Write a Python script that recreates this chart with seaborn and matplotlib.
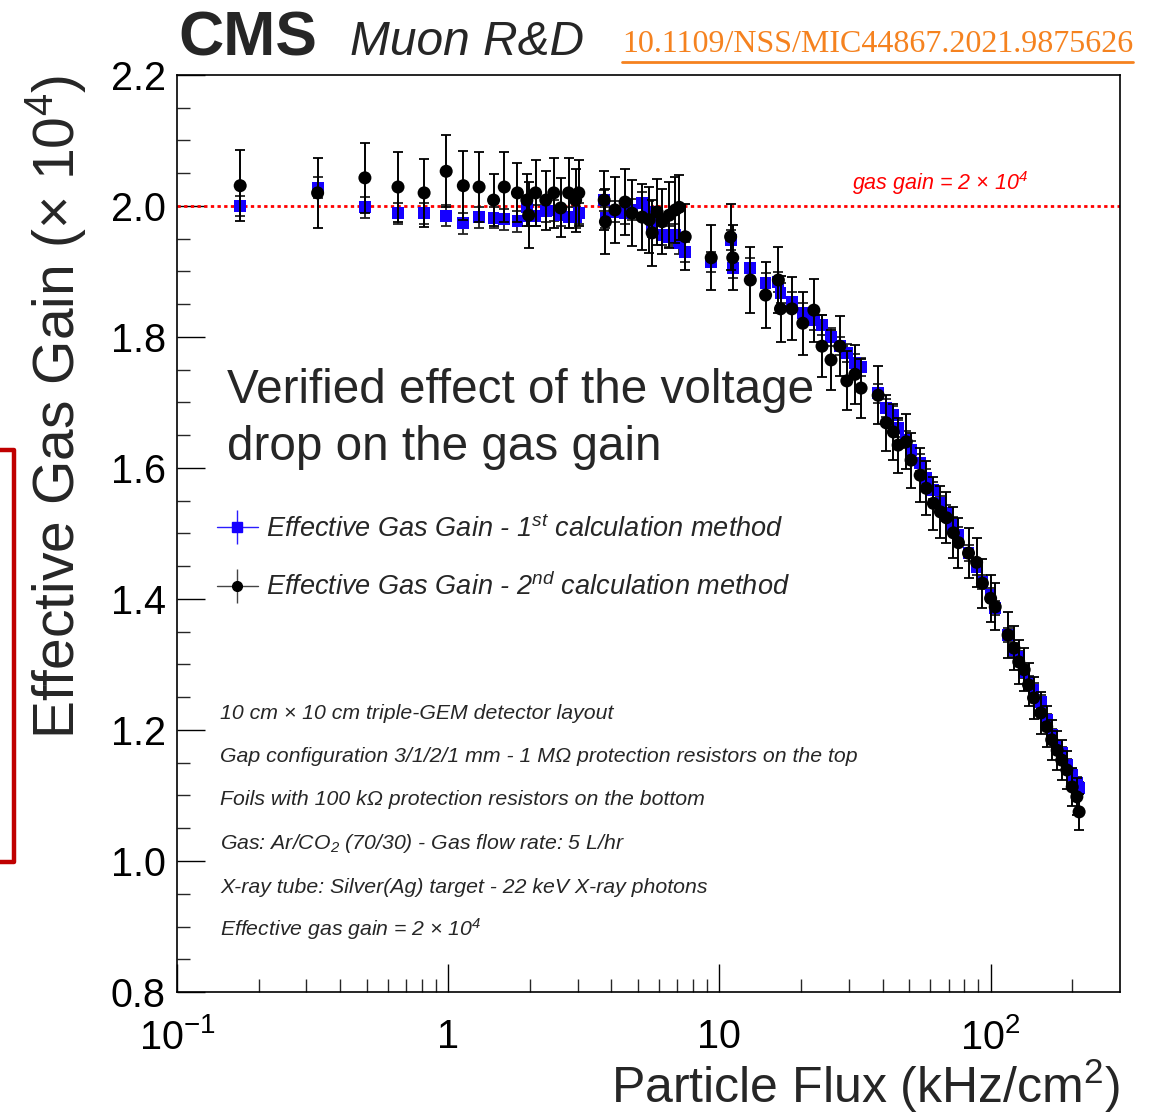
import numpy as np
import pandas as pd
import matplotlib
matplotlib.use("Agg")
import matplotlib.pyplot as plt
import seaborn as sns
from matplotlib.lines import Line2D
from matplotlib.patches import Rectangle
from matplotlib.legend_handler import HandlerTuple
from matplotlib.ticker import FixedLocator, NullFormatter

# ---------------- data ----------------
flux = [0.171, 0.33, 0.493, 0.653, 0.815, 0.983, 1.137, 1.30, 1.47, 1.61,
        1.80, 1.95, 1.98, 2.10, 2.29, 2.45, 2.60, 2.78, 2.95, 3.03,
        3.76, 3.80, 4.12, 4.49, 4.76, 5.19, 5.51, 5.65, 5.89, 6.15,
        6.53, 6.88, 7.11, 7.48, 9.33, 11.0, 11.2, 13.0, 14.8, 16.5,
        16.8, 18.5, 20.3, 22.3, 23.9, 25.8, 27.8, 29.5, 31.6, 33.3,
        38.5, 41.2, 43.8, 45.6, 48.9, 50.9, 55.0, 57.9, 61.5, 65.3,
        68.7, 72.9, 76.1, 82.9, 88.8, 93.3, 100.0, 104.0, 116.0, 122.0,
        127.0, 133.0, 138.0, 144.0, 153.0, 161.0, 168.0, 176.0, 183.0, 191.0,
        200.0, 208.0, 212.0]

gain_1st = [2.000, 2.028, 1.998, 1.989, 1.989, 1.985, 1.974, 1.983, 1.982, 1.980,
            1.977, 1.998, 1.985, 1.985, 1.992, 1.993, 1.986, 1.983, 1.983, 1.989,
            2.009, 1.982, 1.991, 1.989, 1.994, 2.005, 1.991, 1.968, 1.979, 1.956,
            1.953, 1.956, 1.943, 1.930, 1.915, 1.948, 1.905, 1.905, 1.882, 1.884,
            1.867, 1.853, 1.837, 1.826, 1.818, 1.800, 1.786, 1.776, 1.760, 1.754,
            1.714, 1.692, 1.681, 1.661, 1.643, 1.628, 1.608, 1.585, 1.566, 1.546,
            1.531, 1.513, 1.498, 1.470, 1.449, 1.426, 1.406, 1.386, 1.345, 1.322,
            1.311, 1.289, 1.273, 1.261, 1.243, 1.215, 1.192, 1.174, 1.165, 1.147,
            1.131, 1.119, 1.111]

err_1st = [0.016, 0.016, 0.016, 0.016, 0.016, 0.016, 0.016, 0.016, 0.016, 0.016,
           0.016, 0.016, 0.016, 0.016, 0.016, 0.016, 0.016, 0.016, 0.016, 0.016,
           0.016, 0.016, 0.016, 0.016, 0.016, 0.016, 0.016, 0.016, 0.016, 0.016,
           0.016, 0.016, 0.016, 0.015, 0.015, 0.015, 0.015, 0.015, 0.015, 0.015,
           0.015, 0.015, 0.015, 0.015, 0.015, 0.014, 0.014, 0.014, 0.014, 0.014,
           0.014, 0.014, 0.013, 0.013, 0.013, 0.013, 0.013, 0.013, 0.013, 0.012,
           0.012, 0.012, 0.012, 0.012, 0.012, 0.011, 0.011, 0.011, 0.011, 0.011,
           0.010, 0.010, 0.010, 0.010, 0.010, 0.010, 0.009, 0.009, 0.009, 0.009,
           0.009, 0.009, 0.009]

gain_2nd = [2.031, 2.020, 2.043, 2.029, 2.020, 2.053, 2.031, 2.029, 2.009, 2.029,
            2.020, 2.009, 1.986, 2.020, 2.009, 2.020, 1.997, 2.020, 2.009, 2.020,
            2.009, 1.976, 1.994, 2.006, 1.989, 1.983, 1.979, 1.959, 1.991, 1.976,
            1.986, 1.994, 1.998, 1.953, 1.921, 1.953, 1.921, 1.887, 1.864, 1.887,
            1.843, 1.843, 1.821, 1.841, 1.786, 1.765, 1.786, 1.733, 1.743, 1.722,
            1.711, 1.669, 1.655, 1.635, 1.640, 1.612, 1.589, 1.569, 1.546, 1.533,
            1.524, 1.501, 1.486, 1.470, 1.456, 1.424, 1.401, 1.388, 1.345, 1.325,
            1.304, 1.292, 1.269, 1.249, 1.226, 1.205, 1.185, 1.169, 1.154, 1.139,
            1.113, 1.098, 1.075]

err_2nd = [0.054, 0.054, 0.053, 0.053, 0.052, 0.055, 0.053, 0.053, 0.040, 0.053,
           0.045, 0.040, 0.050, 0.050, 0.045, 0.053, 0.045, 0.053, 0.048, 0.050,
           0.045, 0.050, 0.050, 0.050, 0.050, 0.050, 0.050, 0.050, 0.050, 0.050,
           0.050, 0.050, 0.050, 0.050, 0.050, 0.050, 0.050, 0.050, 0.050, 0.050,
           0.050, 0.048, 0.048, 0.048, 0.047, 0.046, 0.046, 0.045, 0.045, 0.045,
           0.044, 0.043, 0.043, 0.042, 0.042, 0.042, 0.041, 0.041, 0.040, 0.040,
           0.039, 0.039, 0.038, 0.038, 0.037, 0.037, 0.036, 0.036, 0.035, 0.034,
           0.034, 0.033, 0.033, 0.032, 0.032, 0.031, 0.031, 0.030, 0.030, 0.029,
           0.029, 0.028, 0.028]

x_tick_vals = [0.1, 1, 10, 100]
x_tick_labels = ["$10^{-1}$", "1", "10", "$10^{2}$"]
y_tick_vals = [0.8, 1.0, 1.2, 1.4, 1.6, 1.8, 2.0, 2.2]
y_tick_labels = ["0.8", "1.0", "1.2", "1.4", "1.6", "1.8", "2.0", "2.2"]
reference_gain = 2.0

label_1st = "Effective Gas Gain - 1$^{st}$ calculation method"
label_2nd = "Effective Gas Gain - 2$^{nd}$ calculation method"
info_lines = [
    "10 cm × 10 cm triple-GEM detector layout",
    "Gap configuration 3/1/2/1 mm - 1 MΩ protection resistors on the top",
    "Foils with 100 kΩ protection resistors on the bottom",
    "Gas: Ar/CO$_{2}$ (70/30) - Gas flow rate: 5 L/hr",
    "X-ray tube: Silver(Ag) target - 22 keV X-ray photons",
    "Effective gas gain = 2 × 10$^{4}$",
]

df1 = pd.DataFrame({"flux": flux, "gain": gain_1st, "err": err_1st})
df2 = pd.DataFrame({"flux": flux, "gain": gain_2nd, "err": err_2nd})

# ---------------- style ----------------
sns.set_theme(style="ticks")
plt.rcParams["font.family"] = ["Liberation Sans", "DejaVu Sans"]
plt.rcParams["mathtext.fontset"] = "custom"
plt.rcParams["mathtext.rm"] = "Liberation Sans"
plt.rcParams["mathtext.it"] = "Liberation Sans:italic"
plt.rcParams["mathtext.bf"] = "Liberation Sans:bold"
plt.rcParams["mathtext.default"] = "regular"

W, H = 1152, 1114
fig = plt.figure(figsize=(W / 100, H / 100), dpi=100)
fig.patch.set_facecolor("white")

def fx(px):
    return px / W

def fy(py):
    return 1 - py / H

ax_l, ax_r, ax_t, ax_b = 177, 1120, 75, 992
ax = fig.add_axes([fx(ax_l), fy(ax_b), (ax_r - ax_l) / W, (ax_b - ax_t) / H])
ax.set_facecolor("white")

# reference line
ax.axhline(reference_gain, color="#ff0000", ls=(0, (1.2, 1.2)), lw=2.0, zorder=1)

# error bars + markers
ax.errorbar(df1["flux"], df1["gain"], yerr=df1["err"], fmt="none",
            ecolor="#222222", elinewidth=1.3, capsize=3.5, capthick=1.3, zorder=2)
sns.scatterplot(data=df1, x="flux", y="gain", marker="s", color="#1500ff",
                s=72, edgecolor="none", ax=ax, zorder=3, legend=False)
ax.errorbar(df2["flux"], df2["gain"], yerr=df2["err"], fmt="none",
            ecolor="black", elinewidth=1.4, capsize=3.5, capthick=1.3, zorder=4)
sns.scatterplot(data=df2, x="flux", y="gain", marker="o", color="black",
                s=88, edgecolor="none", ax=ax, zorder=5, legend=False)

ax.set_xscale("log")
ax.set_xlim(0.1, 300)
ax.set_ylim(0.8, 2.2)

ax.xaxis.set_major_locator(FixedLocator(x_tick_vals))
ax.set_xticklabels(x_tick_labels)
minor_x = [m * 10.0 ** e for e in (-1, 0, 1) for m in range(2, 10)] + [200]
ax.xaxis.set_minor_locator(FixedLocator(minor_x))
ax.xaxis.set_minor_formatter(NullFormatter())

ax.yaxis.set_major_locator(FixedLocator(y_tick_vals))
ax.set_yticklabels(y_tick_labels)
ax.yaxis.set_minor_locator(FixedLocator(list(np.arange(0.8, 2.2001, 0.05))))

ax.tick_params(axis="both", which="major", direction="in", length=20, width=1.0,
               labelsize=28.5, colors="black", top=False, right=False)
ax.tick_params(axis="both", which="minor", direction="in", length=9.5, width=1.0,
               top=False, right=False)
ax.tick_params(axis="x", which="major", pad=19)
ax.tick_params(axis="y", which="major", pad=8)
for s in ax.spines.values():
    s.set_linewidth(1.2)
    s.set_color("black")
    s.set_visible(True)

ax.set_xlabel("Particle Flux (kHz/cm$^{2}$)", fontsize=36, loc="right")
ax.xaxis.set_label_coords(1.0, -0.071)
ax.set_ylabel("Effective Gas Gain (× 10$^{4}$)", fontsize=41, loc="top")
ax.yaxis.set_label_coords(-0.094, 1.0)

# legend
h1 = (Line2D([], [], color="#2a1cff", lw=1.0, marker="|", markersize=24, markeredgewidth=1.0),
      Line2D([], [], ls="none", marker="s", color="#1500ff", markersize=7))
h2 = (Line2D([], [], color="#444444", lw=1.0, marker="|", markersize=24, markeredgewidth=1.0),
      Line2D([], [], ls="none", marker="o", color="black", markersize=7))
leg = ax.legend([h1, h2], [label_1st, label_2nd],
                handler_map={tuple: HandlerTuple(ndivide=1)},
                loc="upper left", bbox_to_anchor=(fx(217), fy(515)),
                bbox_transform=fig.transFigure, frameon=False,
                prop={"style": "italic", "size": 19.5}, handlelength=1.5,
                handletextpad=0.3, labelspacing=1.1, borderpad=0, borderaxespad=0,
                numpoints=1)

# big annotation
fig.text(fx(227), fy(403), "Verified effect of the voltage", fontsize=34.3,
         ha="left", va="baseline")
fig.text(fx(227), fy(460), "drop on the gas gain", fontsize=34.3,
         ha="left", va="baseline")

# info lines
info_base = [719, 762, 805, 849, 893, 936]
for yy, t in zip(info_base, info_lines):
    fig.text(fx(220), fy(yy), t, fontsize=15.3, style="italic", ha="left", va="baseline")

# reference label
fig.text(fx(852), fy(190), "gas gain = 2 × 10$^{4}$", fontsize=15.5, style="italic",
         color="#ff0000", ha="left", va="baseline")

# header
fig.text(fx(178), fy(55), "CMS", fontsize=45, fontweight="bold", ha="left", va="baseline")
fig.text(fx(350), fy(55), "Muon R&D", fontsize=34.5, style="italic", ha="left", va="baseline")
doi = fig.text(fx(622), fy(52), "10.1109/NSS/MIC44867.2021.9875626",
               fontsize=23, family="Liberation Serif", color="#f5821f",
               ha="left", va="baseline")
fig.canvas.draw()
bb = doi.get_window_extent()
fig.add_artist(Line2D([bb.x0 / W, bb.x1 / W], [fy(62), fy(62)], color="#f5821f",
                      lw=2.0, transform=fig.transFigure))

# red frame on the left edge
fig.add_artist(Rectangle((-0.02, fy(862)), 0.02 + fx(14), (862 - 450) / H,
                         fill=False, edgecolor="#c00000", lw=3.2,
                         joinstyle="round", transform=fig.transFigure, clip_on=False))

fig.savefig("out.png", dpi=100, facecolor="white")
